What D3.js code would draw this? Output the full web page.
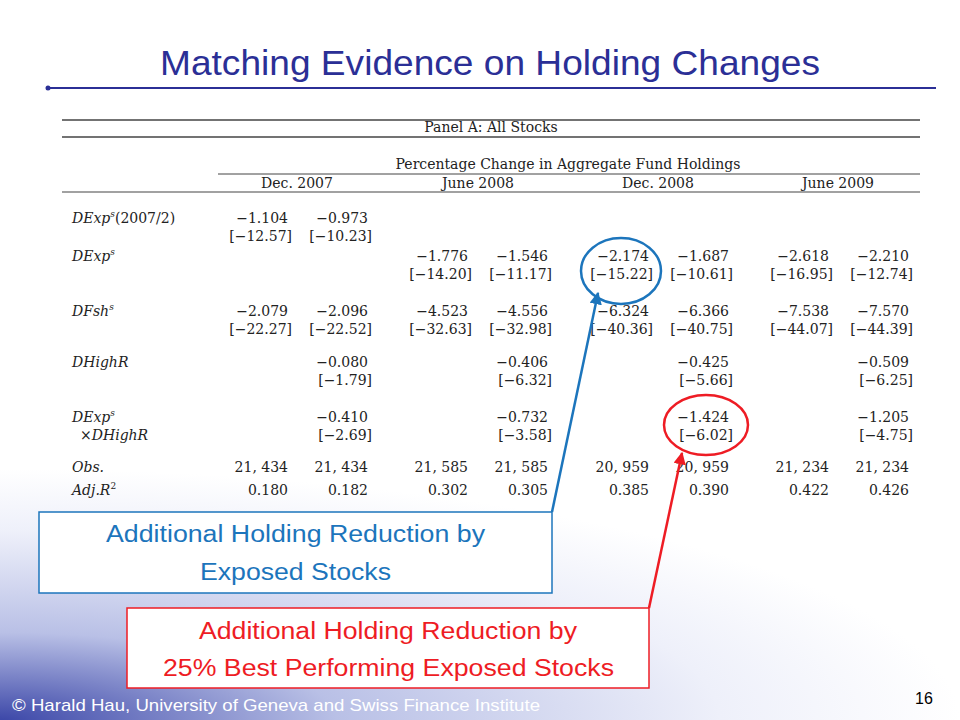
<!DOCTYPE html><html><head><meta charset="utf-8"><script src="https://cdn.jsdelivr.net/npm/d3@7"></script>
<style>body{margin:0}svg{display:block}</style></head><body><script>
const periods=["Dec. 2007","June 2008","Dec. 2008","June 2009"];
const rowLabels=[["DExp","s","(2007/2)"],["DExp","s",""],["DFsh","s",""],["DHighR","",""],["DExp","s",""],["Obs.","",""],["Adj.R","2",""]];
const coefs=[
 ["−1.104","−0.973","","","","","",""],
 ["","","−1.776","−1.546","−2.174","−1.687","−2.618","−2.210"],
 ["−2.079","−2.096","−4.523","−4.556","−6.324","−6.366","−7.538","−7.570"],
 ["","−0.080","","−0.406","","−0.425","","−0.509"],
 ["","−0.410","","−0.732","","−1.424","","−1.205"],
 ["21, 434","21, 434","21, 585","21, 585","20, 959","20, 959","21, 234","21, 234"],
 ["0.180","0.182","0.302","0.305","0.385","0.390","0.422","0.426"]];
const tstats=[
 ["[−12.57]","[−10.23]","","","","","",""],
 ["","","[−14.20]","[−11.17]","[−15.22]","[−10.61]","[−16.95]","[−12.74]"],
 ["[−22.27]","[−22.52]","[−32.63]","[−32.98]","[−40.36]","[−40.75]","[−44.07]","[−44.39]"],
 ["","[−1.79]","","[−6.32]","","[−5.66]","","[−6.25]"],
 ["","[−2.69]","","[−3.58]","","[−6.02]","","[−4.75]"],
 null,null];
const rowY=[218,256,311,362,417,467,490];
const colRight=[288,368,468,548,649,729,829,909];

const W=960,H=720;
const svg=d3.select("body").append("svg").attr("width",W).attr("height",H);
const defs=svg.append("defs");
const g1=defs.append("radialGradient").attr("id","bg").attr("cx",0).attr("cy",1).attr("r",1.0).attr("gradientTransform","scale(1,0.35) translate(0,1.86)");
g1.append("stop").attr("offset",0).attr("stop-color","#3c47a8");
g1.append("stop").attr("offset",0.35).attr("stop-color","#b9c0e6");
g1.append("stop").attr("offset",0.75).attr("stop-color","#eef0fa");
g1.append("stop").attr("offset",1).attr("stop-color","#ffffff");
svg.append("rect").attr("width",W).attr("height",H).attr("fill","#fff");
svg.append("rect").attr("width",W).attr("height",H).attr("fill","url(#bg)");

svg.append("text").attr("x",160).attr("y",75).attr("textLength",660).attr("lengthAdjust","spacingAndGlyphs").attr("font-family","Arial, Liberation Sans").attr("font-size",35).attr("fill","#2b2f96").text("Matching Evidence on Holding Changes");
svg.append("line").attr("x1",47).attr("x2",936).attr("y1",88).attr("y2",88).attr("stroke","#2b2f96").attr("stroke-width",2);
svg.append("circle").attr("cx",48).attr("cy",88).attr("r",2.5).attr("fill","#2b2f96");

const T=svg.append("g").attr("font-family","DejaVu Serif, serif").attr("font-size",14).attr("fill","#222");
const hl=(x1,x2,y,w)=>T.append("line").attr("x1",x1).attr("x2",x2).attr("y1",y).attr("y2",y).attr("stroke","#444").attr("stroke-width",w);
hl(62,920,120,1.5);hl(62,920,137,1.5);hl(218,920,174,1);hl(62,920,192,1.2);
T.append("text").attr("x",491).attr("y",132).attr("text-anchor","middle").text("Panel A: All Stocks");
T.append("text").attr("x",568).attr("y",169).attr("text-anchor","middle").text("Percentage Change in Aggregate Fund Holdings");
const pc=[297,478,658,838];
periods.forEach((p,i)=>T.append("text").attr("x",pc[i]).attr("y",188).attr("text-anchor","middle").text(p));
rowLabels.forEach((r,i)=>{
 const t=T.append("text").attr("x",72).attr("y",rowY[i]+5);
 t.append("tspan").attr("font-style","italic").text(r[0]);
 if(r[1]) t.append("tspan").attr("font-size",9).attr("dy",-6).attr("font-style",i==6?"normal":"italic").text(r[1]);
 if(r[2]) t.append("tspan").attr("dy",6).text(r[2]);
 if(i==4){const t2=T.append("text").attr("x",80).attr("y",rowY[i]+23);t2.append("tspan").text("×");t2.append("tspan").attr("font-style","italic").text("DHighR");}
});
coefs.forEach((row,i)=>row.forEach((v,j)=>{if(v)T.append("text").attr("x",colRight[j]).attr("y",rowY[i]+5).attr("text-anchor","end").text(v);}));
tstats.forEach((row,i)=>{if(row)row.forEach((v,j)=>{if(v)T.append("text").attr("x",colRight[j]+4).attr("y",rowY[i]+23).attr("text-anchor","end").text(v);});});

const blue="#1c75bc",red="#ee1c24";
defs.append("marker").attr("id","ab").attr("viewBox","0 0 10 10").attr("refX",9).attr("refY",5).attr("markerWidth",5).attr("markerHeight",5).attr("orient","auto").append("path").attr("d","M0,0L10,5L0,10z").attr("fill",blue);
defs.append("marker").attr("id","ar").attr("viewBox","0 0 10 10").attr("refX",9).attr("refY",5).attr("markerWidth",5).attr("markerHeight",5).attr("orient","auto").append("path").attr("d","M0,0L10,5L0,10z").attr("fill",red);
svg.append("ellipse").attr("cx",621).attr("cy",271).attr("rx",40).attr("ry",33).attr("fill","none").attr("stroke",blue).attr("stroke-width",2.5);
svg.append("ellipse").attr("cx",706).attr("cy",425).attr("rx",42).attr("ry",30).attr("fill","none").attr("stroke",red).attr("stroke-width",2.5);
svg.append("line").attr("x1",552).attr("y1",512).attr("x2",598).attr("y2",293).attr("stroke",blue).attr("stroke-width",2.5).attr("marker-end","url(#ab)");
svg.append("line").attr("x1",649).attr("y1",608).attr("x2",682).attr("y2",453).attr("stroke",red).attr("stroke-width",2.5).attr("marker-end","url(#ar)");
svg.append("rect").attr("x",39).attr("y",512).attr("width",513).attr("height",81).attr("fill","#fff").attr("stroke",blue).attr("stroke-width",1.5);
svg.append("rect").attr("x",127).attr("y",608).attr("width",522).attr("height",80).attr("fill","#fff").attr("stroke",red).attr("stroke-width",1.5);
const A=svg.append("g").attr("font-family","Arial, Liberation Sans").attr("font-size",23).attr("lengthAdjust","spacingAndGlyphs");
const at=(x,y,len,c,s)=>A.append("text").attr("x",x).attr("y",y).attr("textLength",len).attr("lengthAdjust","spacingAndGlyphs").attr("fill",c).text(s);
at(106,542,379,blue,"Additional Holding Reduction by");
at(200,580,191,blue,"Exposed Stocks");
at(199,639,378,red,"Additional Holding Reduction by");
at(163,676,451,red,"25% Best Performing Exposed Stocks");
svg.append("text").attr("x",12).attr("y",711).attr("textLength",528).attr("lengthAdjust","spacingAndGlyphs").attr("font-family","Arial, Liberation Sans").attr("font-size",17).attr("fill","#fff").text("© Harald Hau, University of Geneva and Swiss Finance Institute");
svg.append("text").attr("x",924).attr("y",704).attr("text-anchor","middle").attr("font-family","Arial, Liberation Sans").attr("font-size",16).attr("fill","#000").text("16");
</script></body></html>
